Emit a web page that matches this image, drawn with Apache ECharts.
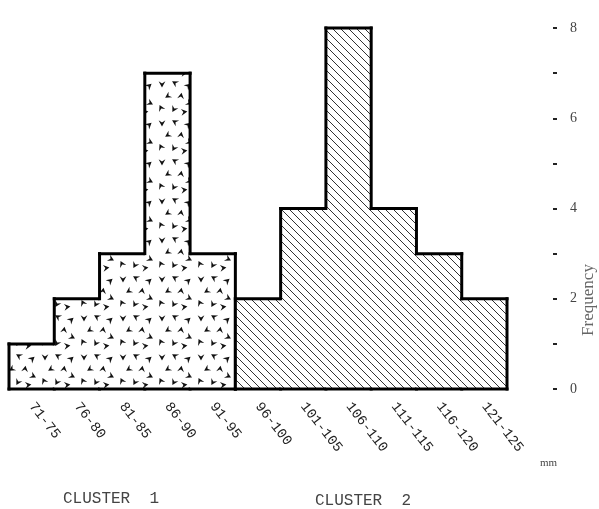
<!DOCTYPE html>
<html><head><meta charset="utf-8">
<script src="https://cdn.jsdelivr.net/npm/echarts@6/dist/echarts.min.js"></script>
<style>html,body{margin:0;padding:0;background:#fff}#c{width:599px;height:509px}</style>
</head><body><div id="c"></div>
<script>
const categories = ['71-75','76-80','81-85','86-90','91-95','96-100','101-105','106-110','111-115','116-120','121-125'];
const cluster1Freq = [1, 2, 3, 7, 3];
const cluster2Freq = [2, 4, 8, 4, 3, 2];
const yTickLabels = [0, 2, 4, 6, 8];
const clusterLabels = ['CLUSTER  1', 'CLUSTER  2'];
const unitLabel = 'mm';
const yName = 'Frequency';

function makeStipple(){
  const s = 39;
  const c = document.createElement('canvas'); c.width = s; c.height = s;
  const g = c.getContext('2d');
  g.fillStyle = '#fff'; g.fillRect(0, 0, s, s);
  g.fillStyle = '#111';
  const marks = [[6,6,0],[19,5,2.1],[32,8,4.0],[12,18,1.0],[25,18,3.3],[33,25,5.2],[5,30,2.7],[18,31,0.5],[28,34,4.6]];
  marks.forEach(([x,y,r]) => {
    g.save(); g.translate(x, y); g.rotate(r);
    g.beginPath(); g.moveTo(-3.4,-2.8); g.lineTo(0,-0.6); g.lineTo(3.4,-2.8); g.lineTo(0,3.4); g.closePath(); g.fill();
    g.restore();
  });
  return c;
}
function makeHatch(){
  const s = 8;
  const c = document.createElement('canvas'); c.width = s; c.height = s;
  const g = c.getContext('2d');
  g.fillStyle = '#fff'; g.fillRect(0, 0, s, s);
  g.strokeStyle = '#333'; g.lineWidth = 1;
  g.beginPath();
  g.moveTo(-1,-1); g.lineTo(s+1,s+1);
  g.moveTo(-1,s-1); g.lineTo(1,s+1);
  g.moveTo(s-1,-1); g.lineTo(s+1,1);
  g.stroke();
  return c;
}

function makeSeries(vals, start, pattern){
  return {
    type: 'custom', coordinateSystem: 'cartesian2d',
    data: vals.map((v, i) => [start + i, v]),
    encode: { x: 0, y: 1 },
    renderItem(params, api){
      const i = params.dataIndex;
      const v = api.value(1);
      const bw = api.size([1, 0])[0];
      const c = api.coord([api.value(0), v]);
      const base = api.coord([api.value(0), 0])[1];
      const x0 = c[0] - bw/2, x1 = c[0] + bw/2, yTop = c[1];
      const prev = i > 0 ? vals[i-1] : 0;
      const yPrev = api.coord([api.value(0), prev])[1];
      const ls = { stroke: '#000', lineWidth: 3, lineCap: 'square' };
      const children = [
        { type: 'rect', shape: { x: x0, y: yTop, width: bw, height: base - yTop }, style: { fill: { image: pattern, repeat: 'repeat' } } },
        { type: 'line', shape: { x1: x0, y1: yTop, x2: x1, y2: yTop }, style: ls },
        { type: 'line', shape: { x1: x0, y1: base, x2: x1, y2: base }, style: ls },
        { type: 'line', shape: { x1: x0, y1: yPrev, x2: x0, y2: yTop }, style: ls }
      ];
      if (i === vals.length - 1) children.push({ type: 'line', shape: { x1: x1, y1: base, x2: x1, y2: yTop }, style: ls });
      return { type: 'group', children };
    }
  };
}

const chart = echarts.init(document.getElementById('c'), null, { renderer: 'canvas' });
chart.setOption({
  backgroundColor: '#fff',
  animation: false,
  grid: { left: 9, right: 92, top: 28, bottom: 120 },
  xAxis: {
    type: 'category', data: categories, boundaryGap: true,
    axisLine: { show: false }, axisTick: { show: false }, splitLine: { show: false },
    axisLabel: { interval: 0, rotate: -52, margin: 15, fontFamily: 'Liberation Mono', fontSize: 14, color: '#222' }
  },
  yAxis: {
    type: 'value', position: 'right', offset: 46, min: 0, max: 8, interval: 1,
    splitLine: { show: false }, axisLine: { show: false },
    axisTick: { show: true, length: 4, lineStyle: { color: '#222', width: 2 } },
    axisLabel: { formatter: v => yTickLabels.includes(v) ? String(v) : '', margin: 17, fontFamily: 'Liberation Serif', fontSize: 14, color: '#444', padding: [0, 0, 10, 0] }
  },
  series: [
    makeSeries(cluster1Freq, 0, makeStipple()),
    makeSeries(cluster2Freq, cluster1Freq.length, makeHatch())
  ],
  graphic: [
    { type: 'text', x: 589, y: 300, rotation: Math.PI/2, style: { text: yName, font: '17px "Liberation Serif"', fill: '#666', align: 'center', verticalAlign: 'middle' } },
    { type: 'text', x: 540, y: 458, style: { text: unitLabel, font: '11px "Liberation Serif"', fill: '#444' } },
    { type: 'text', x: 63, y: 491, style: { text: clusterLabels[0], font: '16px "Liberation Mono"', fill: '#444' } },
    { type: 'text', x: 315, y: 493, style: { text: clusterLabels[1], font: '16px "Liberation Mono"', fill: '#444' } }
  ]
});
</script>
</body></html>
